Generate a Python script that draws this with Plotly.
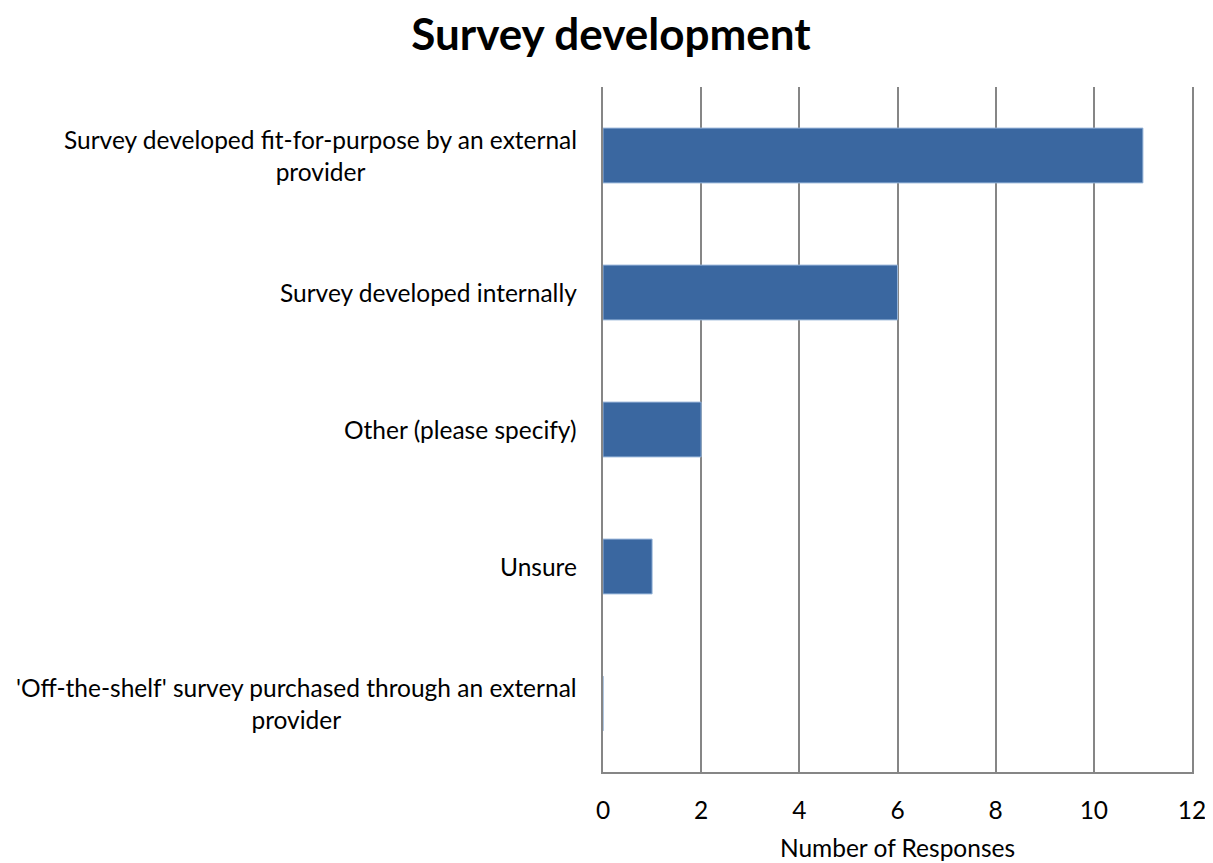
import plotly.graph_objects as go

categories = [
    "Survey developed fit-for-purpose by an external<br>provider",
    "Survey developed internally",
    "Other (please specify)",
    "Unsure",
    "'Off-the-shelf' survey purchased through an external<br>provider",
]
responses = [11, 6, 2, 1, 0]
x_ticks = [0, 2, 4, 6, 8, 10, 12]

FONT = "Lato"
GRID = "#868686"
FS = 24.5

fig = go.Figure()
fig.add_trace(go.Bar(
    y=categories, x=responses, orientation="h",
    marker=dict(color="#3A67A0", line=dict(color="#95B3D7", width=1)),
    width=0.4,
))

for c in categories:
    fig.add_annotation(
        x=0, xref="paper", y=c, yref="y", text=c, showarrow=False,
        xanchor="right", yanchor="middle", align="center", xshift=-24,
        font=dict(family=FONT, size=FS, color="#000000"),
    )

fig.update_layout(
    width=1205, height=855,
    margin=dict(l=595, r=21, t=79, b=91, autoexpand=False),
    paper_bgcolor="white", plot_bgcolor="white",
    showlegend=False,
    title=dict(text="<b>Survey development</b>", x=0.5004, xanchor="center",
               y=0.9684, yanchor="middle",
               font=dict(family=FONT, size=44, color="#000000")),
    font=dict(family=FONT, color="#000000"),
)
fig.update_xaxes(
    range=[0, 12], tickvals=x_ticks, ticktext=[str(v) for v in x_ticks],
    showgrid=True, gridcolor=GRID, gridwidth=1.5,
    showline=True, linecolor=GRID, linewidth=1.5, mirror=False,
    zeroline=False, ticks="", ticklabelstandoff=16, automargin=False,
    tickfont=dict(family=FONT, size=FS, color="#000000"),
    title=dict(text="Number of Responses", standoff=17,
               font=dict(family=FONT, size=FS, color="#000000")),
)
fig.update_yaxes(
    autorange="reversed", showticklabels=False, showgrid=False,
    showline=True, linecolor=GRID, linewidth=1.5, mirror=True,
    zeroline=False, ticks="", automargin=False,
)

fig.write_html("out.html")
